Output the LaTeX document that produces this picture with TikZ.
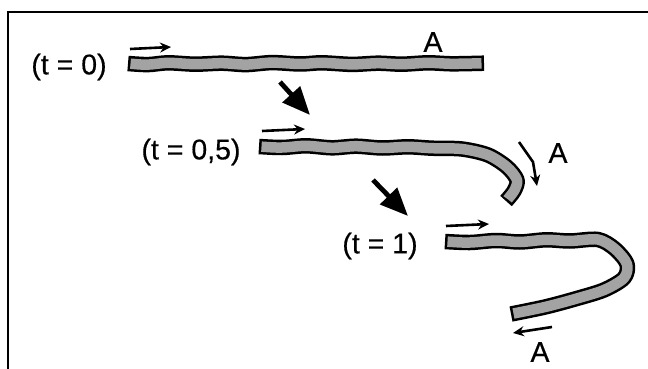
\documentclass[tikz,border=0pt]{standalone}
\usepackage{fontspec}
\setmainfont{Liberation Sans}
\newfontfamily\lblfont[FakeBold=0.4]{Liberation Sans}
\usetikzlibrary{arrows.meta}
\begin{document}
\begin{tikzpicture}[x=1pt,y=-1pt,
  lbl/.style={font=\lblfont\fontsize{28.5}{34}\selectfont, inner sep=0pt},
  outerstrand/.style={draw=black, line width=15.5pt, line cap=butt, line join=round},
  innerstrand/.style={draw=black!36, line width=10.5pt, line cap=butt, line join=round, shorten <=2.5pt, shorten >=2.5pt},
  smallarrow/.style={line width=2.6pt, -{Stealth[length=11pt,width=10pt]}},
  bigarrow/.style={line width=4.8pt, -{Triangle[length=28pt,width=23pt]}},
  framel/.style={line width=1.8pt}]
\useasboundingbox (0,0) rectangle (648,369);
\draw[framel] (648,12) -- (8,12) -- (8,369);

\def\sone{plot[smooth, tension=0.5] coordinates {(128,63.5) (148,64.6) (168,62.8) (195,64.2) (222,63.2) (246,64.6) (272,62.6) (300,64) (322,62.8) (352,64.4) (378,63.2) (402,64.2) (428,62.8) (452,63.8) (484,63.2)}}
\def\stwo{plot[smooth, tension=0.5] coordinates {(259,146.5) (282,147.5) (306,145.8) (332,147.8) (356,146.2) (382,148) (408,146.8) (432,148.2) (462,149) (488,155) (507,167) (517,180) (514,191) (506,201)}}
\def\sthree{plot[smooth, tension=0.5] coordinates {(445,241.5) (470,242.5) (496,240.5) (520,242) (546,239.8) (570,241) (598,239.5) (615,249) (627,264) (624,278) (604,290) (575,299) (545,307) (511,314)}}

\draw[outerstrand] \sone;
\draw[innerstrand] \sone;
\draw[outerstrand] \stwo;
\draw[innerstrand] \stwo;
\draw[outerstrand] \sthree;
\draw[innerstrand] \sthree;

\node[lbl] (t0) at (69,67) {(t = 0)};
\node[lbl] (t05) at (191,152) {(t = 0,5)};
\node[lbl] (t1) at (380,246) {(t = 1)};
\node[lbl] (a1) at (433,42) {A};
\node[lbl] (a2) at (558,153) {A};
\node[lbl] (a3) at (540,352) {A};

\coordinate (s1a) at (130,49); \coordinate (s1b) at (171,47);
\coordinate (s2a) at (262,131); \coordinate (s2b) at (305,129);
\coordinate (s3a) at (446,226); \coordinate (s3b) at (489,224);
\coordinate (s4a) at (552,327); \coordinate (s4b) at (513,333);
\coordinate (bna) at (519,142); \coordinate (bnm) at (533,162); \coordinate (bnb) at (537,186);
\coordinate (b1a) at (280,82); \coordinate (b1b) at (310,115);
\coordinate (b2a) at (373,180); \coordinate (b2b) at (408,216);

\draw[smallarrow] (s1a) -- (s1b);
\draw[smallarrow] (s2a) -- (s2b);
\draw[smallarrow] (s3a) -- (s3b);
\draw[smallarrow] (s4a) -- (s4b);
\draw[smallarrow] (bna) -- (bnm) -- (bnb);
\draw[bigarrow] (b1a) -- (b1b);
\draw[bigarrow] (b2a) -- (b2b);
\end{tikzpicture}
\end{document}
